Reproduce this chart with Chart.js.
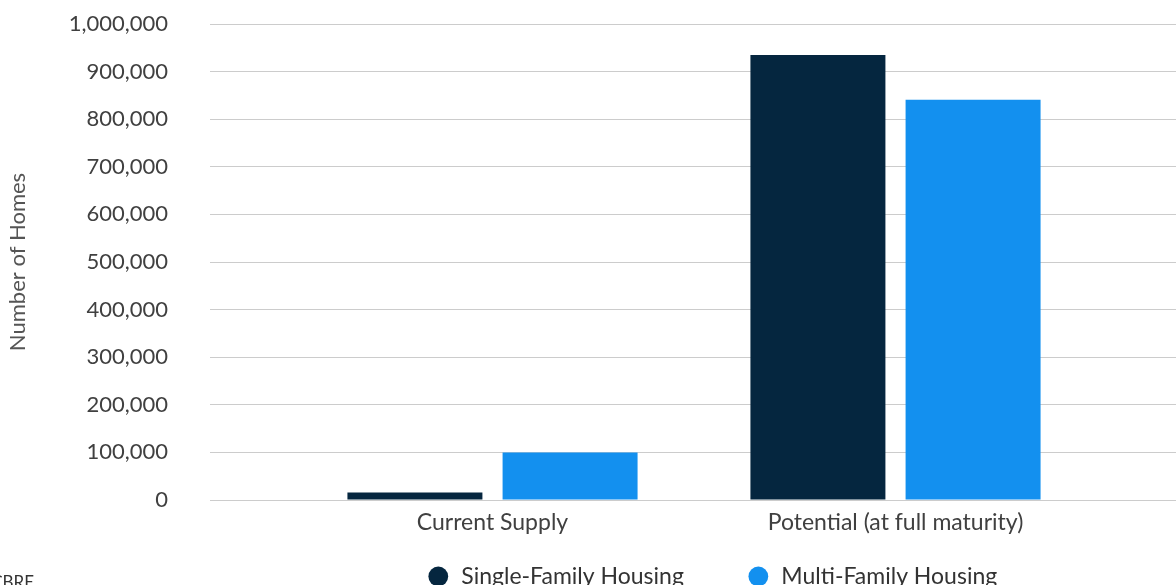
<!DOCTYPE html>
<html>
<head>
<meta charset="utf-8">
<script src="https://cdn.jsdelivr.net/npm/chart.js@4"></script>
<style>
  html, body { margin: 0; padding: 0; background: #fff; overflow: hidden; }
  #wrap { position: relative; width: 1176px; height: 636px; }
  #source {
    position: absolute; right: calc(100% - 34px); top: 571px;
    font: 17px Lato, sans-serif; color: #333; white-space: nowrap;
  }
</style>
</head>
<body>
<div id="wrap">
  <canvas id="housingChart"></canvas>
  <div id="source">Source: CBRE</div>
</div>
<script>
// Chart data
const categories = ["Current Supply", "Potential (at full maturity)"];
const singleFamily = [16000, 935000];
const multiFamily = [100000, 841000];
const yTicks = { min: 0, max: 1000000, step: 100000 };

const gridColor = "#cccccc";
const font = "Lato";

// legend needs wide gaps between items, so pull it up over the x axis area
// and move it a bit right, like the original
const legendShift = {
    id: "legendShift",
    afterLayout(chart) {
        chart.legend.top -= 38;
        chart.legend.bottom -= 38;
        chart.legend.left += 124;
        chart.legend.right += 124;
    },
};

const ctx = document.getElementById("housingChart").getContext("2d");
const housingChart = new Chart(ctx, {
    type: "bar",
    data: {
        labels: categories,
        datasets: [
            {
                label: "Single-Family Housing",
                data: singleFamily,
                backgroundColor: "#05263f",
            },
            {
                label: "Multi-Family Housing",
                data: multiFamily,
                backgroundColor: "#1390ef",
            },
        ],
    },
    plugins: [legendShift],
    options: {
        responsive: true,
        maintainAspectRatio: false,
        animation: false,
        categoryPercentage: 0.77,
        barPercentage: 0.87,
        layout: { padding: { top: 24, left: 0, right: 0, bottom: 0 } },
        plugins: {
            tooltip: { enabled: false },
            legend: {
                position: "bottom",
                labels: {
                    usePointStyle: true,
                    pointStyle: "circle",
                    boxWidth: 23,
                    boxHeight: 14,
                    padding: 63,
                    color: "#333",
                    font: { family: font, size: 23 },
                },
            },
        },
        scales: {
            x: {
                grid: { display: false, drawTicks: false },
                border: { display: false },
                ticks: { color: "#404040", padding: 9, font: { family: font, size: 23 } },
                afterFit: (scale) => { scale.height = 40; },
            },
            y: {
                min: yTicks.min,
                max: yTicks.max,
                grid: { color: gridColor, tickLength: 81, drawTicks: true },
                border: { display: false },
                ticks: {
                    stepSize: yTicks.step,
                    padding: 42,
                    color: "#404040",
                    font: { family: font, size: 22 },
                    callback: (v) => v.toLocaleString("en-US"),
                },
                title: {
                    display: true,
                    text: "Number of Homes",
                    color: "#555",
                    font: { family: font, size: 22 },
                    padding: { top: 5, bottom: 0 },
                },
                afterFit: (scale) => {
                    scale.width = 291;
                    scale.paddingTop = 0;
                    scale.paddingBottom = 0;
                },
            },
            // right-hand axis only to carry the gridlines out to the edge
            yRight: {
                position: "right",
                min: yTicks.min,
                max: yTicks.max,
                grid: { color: gridColor, tickLength: 79, drawTicks: true, drawOnChartArea: false },
                border: { display: false },
                ticks: { display: false, stepSize: yTicks.step },
                afterFit: (scale) => { scale.width = 79; },
            },
        },
    },
});
</script>
</body>
</html>
